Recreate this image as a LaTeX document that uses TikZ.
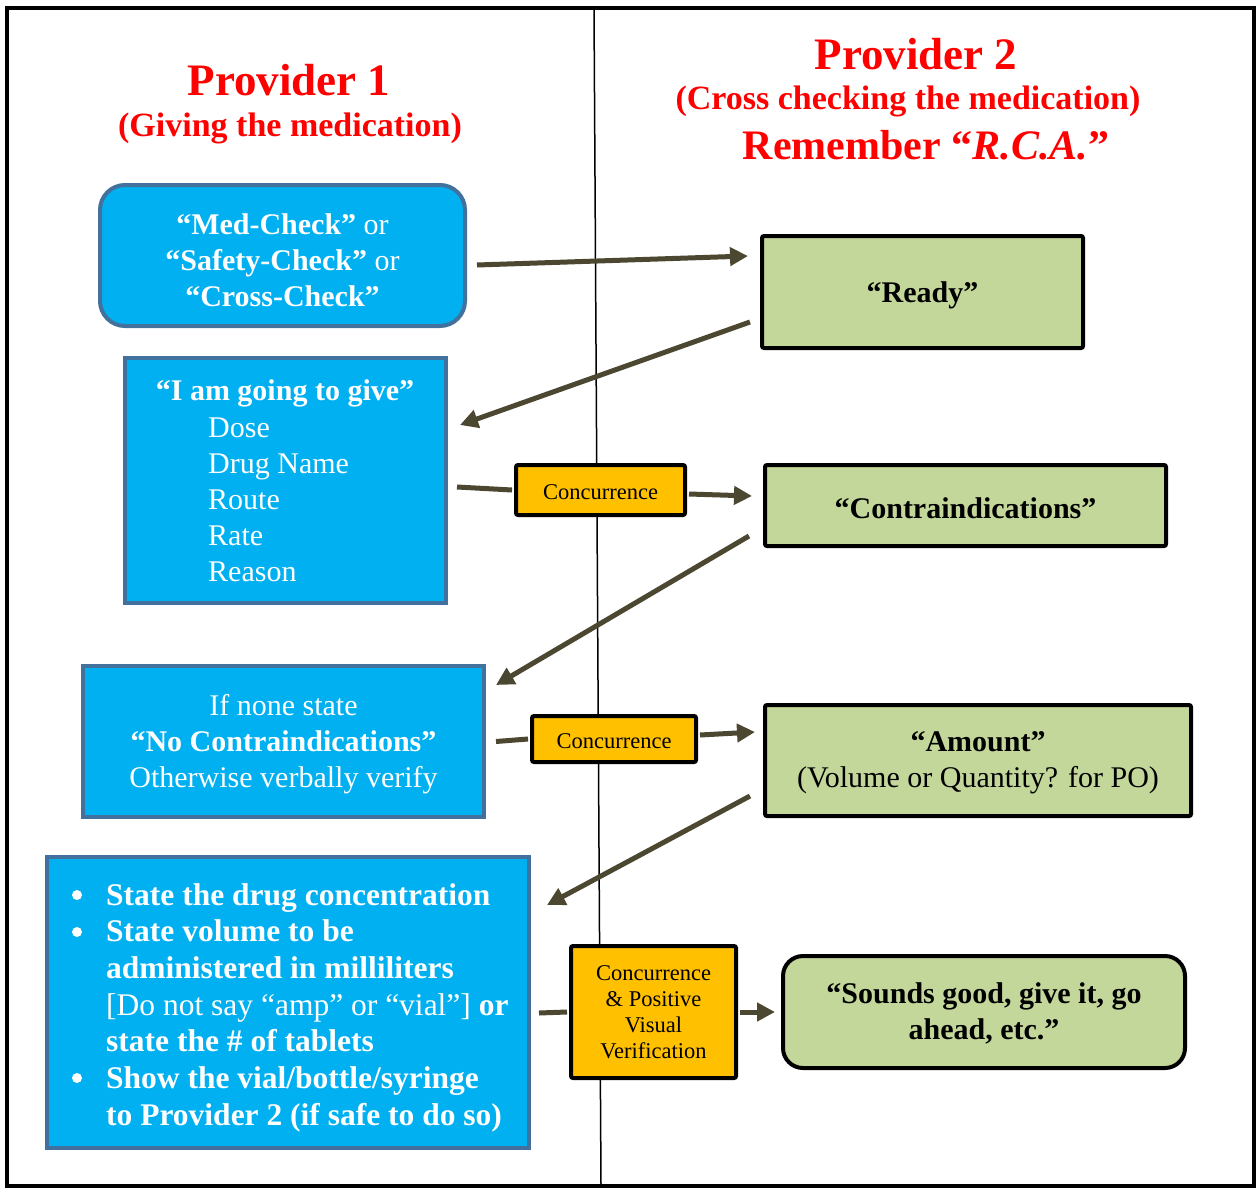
\documentclass[tikz,border=0pt]{standalone}
\usepackage{fontspec}
\setmainfont{Liberation Serif}
\usetikzlibrary{arrows.meta}
\definecolor{cyanfill}{HTML}{00B0F0}
\definecolor{bluebord}{HTML}{41719C}
\definecolor{greenfill}{HTML}{C4D79B}
\definecolor{orangefill}{HTML}{FFC000}
\definecolor{arrowc}{HTML}{4B4731}
\definecolor{titlered}{HTML}{FF0000}
\begin{document}
\begin{tikzpicture}[x=1pt,y=-1pt,
  bluebox/.style={draw=bluebord, fill=cyanfill, line width=4pt, inner sep=0pt},
  greenbox/.style={draw=black, fill=greenfill, line width=4pt, inner sep=0pt, rounded corners=2pt},
  orangebox/.style={draw=black, fill=orangefill, line width=4pt, inner sep=0pt, rounded corners=2pt},
  whitetext/.style={text=white, inner sep=0pt, font=\fontsize{30}{36}\selectfont},
  blacktext/.style={text=black, inner sep=0pt, font=\fontsize{30}{36}\selectfont},
  smalltext/.style={text=black, inner sep=0pt, font=\fontsize{22.5}{26}\selectfont},
  titlebig/.style={text=titlered, inner sep=0pt, font=\fontsize{45}{54}\selectfont\bfseries},
  titlesub/.style={text=titlered, inner sep=0pt, font=\fontsize{34}{40}\selectfont\bfseries},
  bulletdot/.style={circle, fill=white, inner sep=0pt, minimum size=10pt},
  arr/.style={draw=arrowc, line width=5pt, -{Triangle[length=18pt,width=18pt]}},
  seg/.style={draw=arrowc, line width=5pt},
]
\useasboundingbox (0,0) rectangle (1257,1188);
\fill[white] (0,0) rectangle (1257,1188);
% frame and divider
\draw[line width=4pt] (7,8) rectangle (1254,1186);
\coordinate (divtop) at (594,10);
\coordinate (divbot) at (601,1185);
\draw[line width=1.5pt] (divtop) -- (divbot);

% titles
\node[titlebig] (p1) at (289,80) {Provider 1};
\node[titlesub] (p1s) at (290,128) {(Giving the medication)};
\node[titlebig] (p2) at (916,54) {Provider 2};
\node[titlesub] (p2s) at (908,101) {(Cross checking the medication)};
\node[text=titlered, inner sep=0pt, font=\fontsize{42}{50}\selectfont\bfseries] (p2r) at (926,145) {Remember “\textit{R.C.A.}”};

% left boxes
\node[bluebox, rounded corners=25pt, minimum width=365pt, minimum height=141pt] (med) at (282.5,255.5) {};
\node[whitetext, align=center] (medt) at (282.5,260) {\textbf{“Med-Check”} or\\\textbf{“Safety-Check”} or\\\textbf{“Cross-Check”}};

\node[bluebox, minimum width=321pt, minimum height=245pt] (iam) at (285.5,480.5) {};
\node[whitetext] (iamt) at (285,393) {\textbf{“I am going to give”}};
\node[whitetext, align=left, anchor=west] (iaml) at (208,500) {Dose\\Drug Name\\Route\\Rate\\Reason};

\node[bluebox, minimum width=401pt, minimum height=151pt] (none) at (283.5,741.5) {};
\node[whitetext, align=center] (nonet) at (283.5,744) {If none state\\\textbf{“No Contraindications”}\\Otherwise verbally verify};

\node[bluebox, minimum width=482pt, minimum height=291pt] (bul) at (288,1002.5) {};
\node[bulletdot] (b1) at (77,895) {};
\node[bulletdot] (b2) at (77,932) {};
\node[bulletdot] (b3) at (77,1078) {};
\node[whitetext, font=\fontsize{31.5}{36.7}\selectfont, align=left, anchor=north west] (bult) at (106,883) {\textbf{State the drug concentration}\\\textbf{State volume to be}\\\textbf{administered in milliliters}\\{[}Do not say “amp” or “vial”{]} \textbf{or}\\\textbf{state the \# of tablets}\\\textbf{Show the vial/bottle/syringe}\\\textbf{to Provider 2 (if safe to do so)}};

% right boxes
\node[greenbox, minimum width=321pt, minimum height=112pt] (ready) at (922.5,292) {};
\node[blacktext] (readyt) at (922.5,295) {\textbf{“Ready”}};

\node[greenbox, minimum width=401pt, minimum height=81pt] (contra) at (965.5,505.5) {};
\node[blacktext] (contrat) at (965.5,508) {\textbf{“Contraindications”}};

\node[greenbox, minimum width=426pt, minimum height=111pt] (amount) at (978,760.5) {};
\node[blacktext, align=center] (amountt) at (978,763) {\textbf{“Amount”}\\(Volume or Quantity? for PO)};

\node[greenbox, rounded corners=20pt, minimum width=402pt, minimum height=112pt] (sounds) at (984,1012) {};
\node[blacktext, align=center] (soundst) at (984,1013) {\textbf{“Sounds good, give it, go}\\\textbf{ahead, etc.”}};

% concurrence boxes
\node[orangebox, minimum width=169pt, minimum height=50pt] (conc1) at (600.5,490) {};
\node[smalltext] (conc1t) at (600.5,492) {Concurrence};
\node[orangebox, minimum width=164pt, minimum height=46pt] (conc2) at (614,739) {};
\node[smalltext] (conc2t) at (614,741) {Concurrence};
\node[orangebox, minimum width=165pt, minimum height=132pt] (conc3) at (653.5,1012) {};
\node[smalltext, align=center] (conc3t) at (653.5,1012) {Concurrence\\\&~Positive\\Visual\\Verification};

% connectors
\draw[arr] ([xshift=10pt,yshift=-9.5pt]med.east) -- ([xshift=-12pt,yshift=36pt]ready.west);
\draw[arr] ([xshift=-10pt,yshift=-30pt]ready.west) -- ([xshift=12pt,yshift=55.5pt]iam.east);
\draw[seg] ([xshift=9pt,yshift=-6.5pt]iam.east) -- ([xshift=-2pt]conc1.west);
\draw[arr] ([xshift=2pt,yshift=-4pt]conc1.east) -- ([xshift=-11pt,yshift=9.5pt]contra.west);
\draw[arr] ([xshift=-14pt,yshift=-30.5pt]contra.west) -- ([xshift=10pt,yshift=56.5pt]none.east);
\draw[seg] ([xshift=10pt]none.east) -- ([xshift=-2pt]conc2.west);
\draw[arr] ([xshift=2pt,yshift=4pt]conc2.east) -- ([xshift=-8pt,yshift=28.5pt]amount.west);
\draw[arr] ([xshift=-13pt,yshift=-35.5pt]amount.west) -- ([xshift=16pt,yshift=-50pt]bul.north east);
\draw[seg] ([xshift=8pt,yshift=-10.5pt]bul.east) -- ([xshift=-2pt]conc3.west);
\draw[arr] ([xshift=2pt]conc3.east) -- ([xshift=-6pt]sounds.west);
\end{tikzpicture}
\end{document}
